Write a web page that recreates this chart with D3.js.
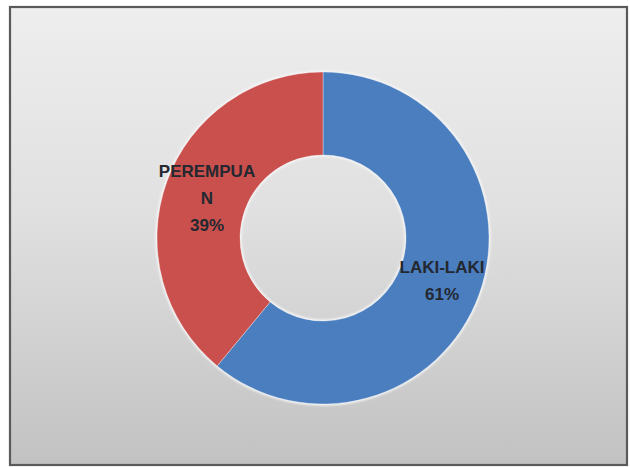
<!DOCTYPE html>
<html>
<head>
<meta charset="utf-8">
<script src="https://cdn.jsdelivr.net/npm/d3@7"></script>
<style>
  html, body { margin: 0; padding: 0; background: #ffffff; }
  svg { display: block; }
</style>
</head>
<body>
<script>
// Gender split of respondents
const categories = ["LAKI-LAKI", "PEREMPUAN"];
const values = [61, 39];
// Label lines as wrapped inside the slices
const labelLines = [["LAKI-LAKI"], ["PEREMPUA", "N"]];
const colors = ["#4a7ebf", "#c9504d"];

const W = 630, H = 467;
const svg = d3.select("body").append("svg")
  .attr("width", W).attr("height", H);

const defs = svg.append("defs");
const grad = defs.append("linearGradient")
  .attr("id", "bg").attr("x1", 0).attr("y1", 0).attr("x2", 0).attr("y2", 1);
grad.append("stop").attr("offset", "0%").attr("stop-color", "#eeeeee");
grad.append("stop").attr("offset", "45%").attr("stop-color", "#e0e0e0");
grad.append("stop").attr("offset", "100%").attr("stop-color", "#c2c2c2");

const glow = defs.append("filter").attr("id", "glow")
  .attr("x", "-10%").attr("y", "-10%").attr("width", "120%").attr("height", "120%");
glow.append("feGaussianBlur").attr("stdDeviation", 1.2);

// Chart frame
svg.append("rect")
  .attr("x", 10).attr("y", 7)
  .attr("width", 617).attr("height", 458)
  .attr("fill", "url(#bg)")
  .attr("stroke", "#5a5a5a").attr("stroke-width", 2.2);

const cx = 323, cy = 238, rOuter = 166, rInner = 83;
const g = svg.append("g").attr("transform", `translate(${cx},${cy})`);

const pie = d3.pie().sort(null).value(d => d.value);
const data = categories.map((c, i) => ({ name: c, value: values[i], lines: labelLines[i], color: colors[i] }));
const arcs = pie(data);
const arc = d3.arc().innerRadius(rInner).outerRadius(rOuter);

// soft light halo round the ring
g.append("g").attr("filter", "url(#glow)")
  .selectAll("path").data(arcs).join("path")
  .attr("d", d3.arc().innerRadius(rInner - 1.5).outerRadius(rOuter + 1.5))
  .attr("fill", "#f6f6f6");

g.selectAll("path.slice").data(arcs).join("path")
  .attr("class", "slice")
  .attr("d", arc)
  .attr("fill", d => d.data.color)
  .attr("stroke", "rgba(255,255,255,0.35)")
  .attr("stroke-width", 1);

const total = d3.sum(values);
const fmt = v => Math.round(v / total * 100) + "%";

// label anchor positions relative to the ring centre
const labelPos = [
  { x: 119, y: 31 },
  { x: -116, y: -65 }
];
const lineH = 27;

arcs.forEach((d, i) => {
  const lines = d.data.lines.concat([fmt(d.data.value)]);
  const t = g.append("text")
    .attr("text-anchor", "middle")
    .attr("font-family", "'Liberation Sans', Arial, sans-serif")
    .attr("font-weight", "bold")
    .attr("font-size", 17)
    .attr("fill", "#242830");
  lines.forEach((ln, k) => {
    t.append("tspan")
      .attr("x", labelPos[i].x)
      .attr("y", labelPos[i].y + k * lineH)
      .attr("dominant-baseline", "middle")
      .text(ln);
  });
});
</script>
</body>
</html>
